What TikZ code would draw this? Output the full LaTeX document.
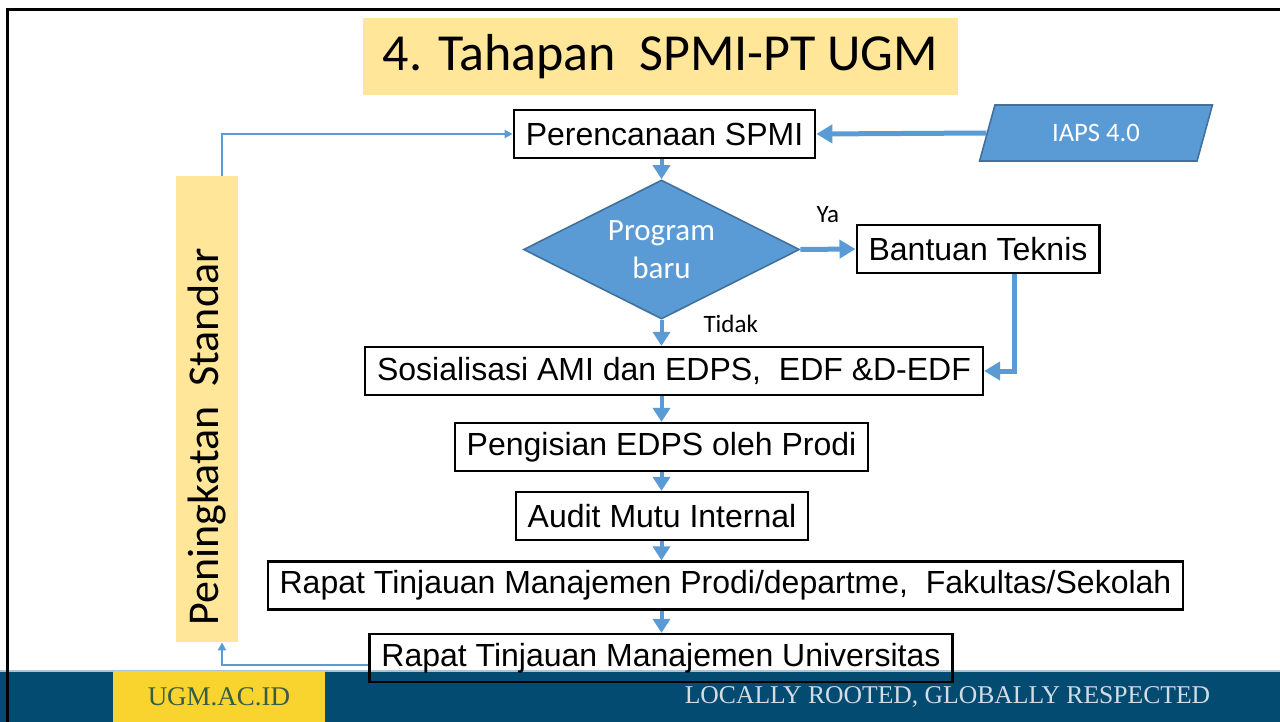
\documentclass[tikz,border=0pt]{standalone}
\usepackage{fontspec}
\setmainfont{Liberation Sans}
\newfontfamily\calibri{Carlito}
\newfontfamily\footserif{Liberation Serif}
\usepackage{tikz}
\usetikzlibrary{shapes,arrows.meta,positioning}
\definecolor{ofblue}{HTML}{5B9BD5}
\definecolor{ofdark}{HTML}{41719C}
\definecolor{paleyellow}{HTML}{FFE699}
\definecolor{ugmblue}{HTML}{034B70}
\definecolor{ugmyellow}{HTML}{F9D42E}
\definecolor{ugmgreen}{HTML}{355E45}
\definecolor{mottogray}{HTML}{D3DCE4}
\definecolor{barline}{HTML}{A9C4D6}
\tikzstyle{heading} = [rectangle, fill=paleyellow, minimum width=297.5pt, minimum height=38.5pt, font=\calibri\fontsize{26}{30}\selectfont]
\tikzstyle{block} = [rectangle, draw, line width=1.1pt, fill=white, inner xsep=6pt, inner ysep=0pt, minimum height=24pt, font=\fontsize{16}{18}\selectfont]
\tikzstyle{decision} = [diamond, aspect=2, draw=ofdark, line width=0.8pt, fill=ofblue, text=white, inner sep=0pt, minimum width=138pt, minimum height=69.5pt, align=center, font=\calibri\fontsize{15.5}{19}\selectfont]
\tikzstyle{input} = [trapezium, trapezium left angle=76, trapezium right angle=104, trapezium stretches=true, draw=ofdark, line width=0.8pt, fill=ofblue, text=white, minimum width=117pt, minimum height=28pt, font=\calibri\fontsize{13.3}{16}\selectfont]
\tikzstyle{side} = [rectangle, fill=paleyellow, minimum width=233pt, minimum height=31pt, font=\calibri\fontsize{22}{26}\selectfont]
\tikzstyle{footbox} = [rectangle, fill=ugmyellow, text=ugmgreen, minimum width=106pt, minimum height=25.5pt, font=\footserif\fontsize{13.5}{16}\selectfont]
\tikzstyle{motto} = [text=mottogray, inner sep=0pt, font=\footserif\fontsize{12.8}{15}\selectfont]
\tikzstyle{arrow} = [draw, line width=2pt, color=ofblue, -{Triangle[width=8.5pt,length=7pt]}]
\tikzstyle{bigarrow} = [draw, line width=2.5pt, color=ofblue, -{Triangle[width=9pt,length=8pt]}]
\tikzstyle{thinarrow} = [draw, line width=1pt, color=ofblue, -{Triangle[width=4pt,length=4pt]}]
\tikzstyle{answer} = [color=black, inner sep=0pt, font=\calibri\fontsize{12.5}{15}\selectfont]

\begin{document}
\begin{tikzpicture}[x=0.5pt, y=-0.5pt]
  \useasboundingbox (0,0) rectangle (1280,722);

  % footer
  \fill[ugmblue] (0,671) rectangle (1280,722);
  \draw[barline, line width=0.8pt] (0,671) -- (1280,671);
  \node[footbox] (site) at (219,696.5) {UGM.AC.ID};
  \node[motto] (motto) at (947.5,697) {LOCALLY ROOTED, GLOBALLY RESPECTED};

  % slide frame
  \draw[line width=1.5pt] (7,722) -- (7,9.5) -- (1280,9.5);

  \node[heading] (title) at (660.5,56.5) {4. Tahapan\ \ SPMI-PT UGM};
  \node[block] (plan) at (664.5,134) {Perencanaan SPMI};
  \node[input] (iaps) at (1096,133) {IAPS 4.0};
  \node[decision] (newprog) at (661.5,249.5) {Program\\baru};
  \node[block] (help) at (978,249) {Bantuan Teknis};
  \node[block] (social) at (674,371) {Sosialisasi AMI dan EDPS,\ \ EDF \&D-EDF};
  \node[block] (fillin) at (661.5,447) {Pengisian EDPS oleh Prodi};
  \node[block] (audit) at (662,516) {Audit Mutu Internal};
  \node[block] (rtmdept) at (725.5,585.5) {Rapat Tinjauan Manajemen Prodi/departme,\ \ Fakultas/Sekolah};
  \node[block, fill=none] (rtmuniv) at (661,658) {Rapat Tinjauan Manajemen Universitas};
  \node[side, rotate=90] (raise) at (207,409) {Peningkatan\ \ Standar\hspace*{28pt}};

  \path[bigarrow] (iaps.west) -- (plan.east);
  \path[arrow] (plan.south -| newprog) -- (newprog.north);
  \path[bigarrow] (newprog.east) -- node[answer, above=12pt] {Ya} (help.west);
  \path[arrow] (newprog.south) -- node[answer, pos=0.15, right=20pt] {Tidak} (social.north -| newprog);
  \path[bigarrow] ([xshift=18pt]help.south) |- (social.east);
  \path[arrow] (social.south -| newprog) -- (fillin.north -| newprog);
  \path[arrow] (fillin.south -| newprog) -- (audit.north -| newprog);
  \path[arrow] (audit.south -| newprog) -- (rtmdept.north -| newprog);
  \path[arrow] (rtmdept.south -| newprog) -- (rtmuniv.north -| newprog);

  \path[thinarrow] ([yshift=-3.5pt]rtmuniv.west) -| ([xshift=7.5pt]raise.west);
  \path[thinarrow] ([xshift=7.5pt]raise.east) |- (plan.west);

\end{tikzpicture}
\end{document}
